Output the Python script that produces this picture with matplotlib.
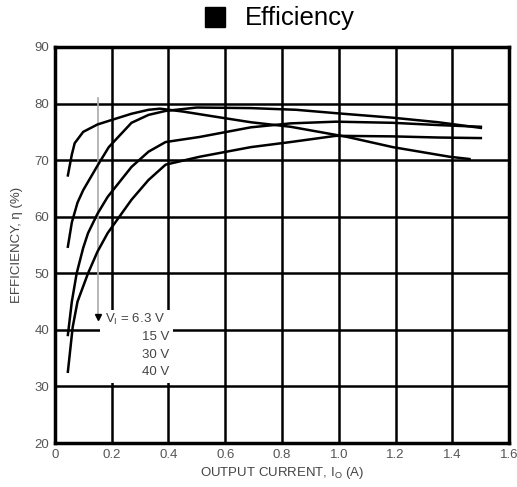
import matplotlib
matplotlib.use("Agg")
import matplotlib.pyplot as plt
from matplotlib.lines import Line2D
from matplotlib.patches import Rectangle

plt.rcParams['font.family'] = ['Liberation Sans', 'DejaVu Sans']

# Data
x_63 = [0.046, 0.06, 0.07, 0.1, 0.15, 0.2, 0.27, 0.33, 0.37, 0.45, 0.55, 0.69, 0.83, 1.03, 1.19, 1.39, 1.46]
y_63 = [67.3, 71.0, 73.0, 75.0, 76.3, 77.1, 78.2, 78.9, 79.1, 78.6, 77.8, 76.7, 75.9, 74.1, 72.3, 70.6, 70.2]

x_15 = [0.046, 0.06, 0.08, 0.1, 0.15, 0.19, 0.27, 0.33, 0.39, 0.5, 0.69, 0.85, 0.99, 1.19, 1.35, 1.5]
y_15 = [54.7, 59.0, 62.5, 64.7, 69.0, 72.3, 76.6, 78.0, 78.7, 79.3, 79.2, 78.9, 78.3, 77.5, 76.7, 75.7]

x_30 = [0.046, 0.06, 0.077, 0.1, 0.117, 0.15, 0.186, 0.27, 0.33, 0.39, 0.51, 0.69, 0.83, 0.99, 1.19, 1.35, 1.5]
y_30 = [39.1, 45.0, 50.0, 54.5, 57.1, 60.5, 63.5, 68.8, 71.5, 73.2, 74.1, 75.8, 76.5, 76.8, 76.6, 76.2, 75.9]

x_40 = [0.046, 0.063, 0.08, 0.117, 0.15, 0.186, 0.27, 0.33, 0.39, 0.51, 0.69, 0.83, 0.99, 1.19, 1.35, 1.5]
y_40 = [32.6, 40.5, 45.0, 50.0, 53.8, 57.1, 63.0, 66.5, 69.2, 70.6, 72.3, 73.2, 74.3, 74.2, 74.0, 73.9]

x_ticks = [0, 0.2, 0.4, 0.6, 0.8, 1.0, 1.2, 1.4, 1.6]
x_tick_labels = ["0", "0.2", "0.4", "0.6", "0.8", "1.0", "1.2", "1.4", "1.6"]
y_ticks = [20, 30, 40, 50, 60, 70, 80, 90]

fig = plt.figure(figsize=(5.17, 4.87), dpi=100)
ax = fig.add_axes([0.106, 0.0903, 0.879, 0.8132])
ax.set_xlim(0, 1.6)
ax.set_ylim(20, 90)

for xv in x_ticks[1:-1]:
    ax.axvline(xv, color='black', lw=1.8, zorder=1)
for yv in y_ticks[1:-1]:
    ax.axhline(yv, color='black', lw=1.8, zorder=1)

# white box behind annotation
ax.add_patch(Rectangle((0.16, 30.6), 0.255, 12.9, facecolor='white', edgecolor='none', zorder=2))

for xs, ys in [(x_63, y_63), (x_15, y_15), (x_30, y_30), (x_40, y_40)]:
    ax.plot(xs, ys, color='black', lw=1.8, zorder=4)

# arrow
ax.plot([0.153, 0.153], [81, 42.8], color='#aaaaaa', lw=1.2, zorder=3)
ax.plot([0.153], [42.3], marker='v', color='black', markersize=5, zorder=5)

ax.text(0.178, 41.8, "V$_\\mathregular{I}$ = 6.3 V", fontsize=9.5, color='#444444', va='center', ha='left', zorder=5)
for txt, yy in [("15 V", 38.8), ("30 V", 35.6), ("40 V", 32.6)]:
    ax.text(0.402, yy, txt, fontsize=9.5, color='#444444', va='center', ha='right', zorder=5)

ax.set_xticks(x_ticks)
ax.set_xticklabels(x_tick_labels)
ax.set_yticks(y_ticks)
ax.tick_params(length=0, pad=4, labelsize=9.5, labelcolor='#555555')
for s in ax.spines.values():
    s.set_linewidth(2.5)
    s.set_zorder(6)

ax.set_xlabel("OUTPUT CURRENT, I$_\\mathregular{O}$ (A)", fontsize=9.5, color='#444444', labelpad=3)
ax.set_ylabel("EFFICIENCY, η (%)", fontsize=9.5, color='#444444', labelpad=8)

# legend (manual placement)
fig.add_artist(Line2D([214.5 / 517], [1 - 17 / 487], marker='s', color='black',
                      linestyle='none', markersize=14.5, transform=fig.transFigure))
fig.text(245 / 517, 1 - 18 / 487, "Efficiency", fontsize=18.5, color='black',
         ha='left', va='center')

fig.savefig("out.png", dpi=100)
